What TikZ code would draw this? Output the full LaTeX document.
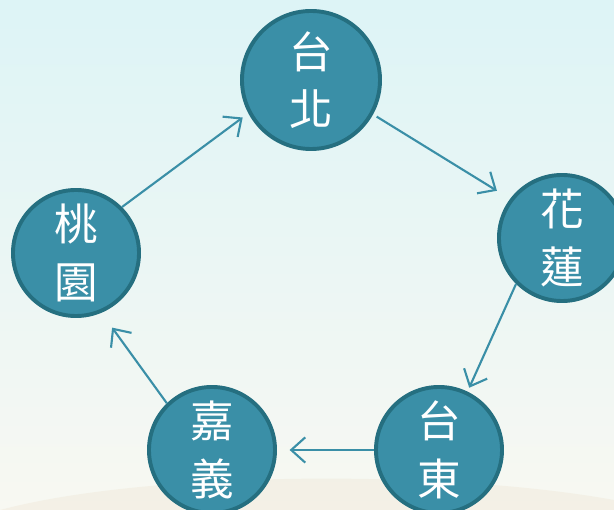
\documentclass[tikz,border=0pt]{standalone}
\usepackage{fontspec}
\usepackage{xcolor}
\usepackage{tikz}
\usetikzlibrary{arrows.meta, positioning, calc}
\newfontfamily\cjk{Noto Sans CJK TC}
\definecolor{cityteal}{HTML}{3A8FA7}
\definecolor{cityrim}{HTML}{256F80}
\definecolor{skycyan}{HTML}{DDF4F6}
\definecolor{papercream}{HTML}{F8F8F2}
\definecolor{pagetan}{HTML}{E9DCC4}

\begin{document}
\begin{tikzpicture}[
  x=0.025cm, y=-0.025cm,
  city/.style={
    circle,
    draw=cityrim,
    fill=cityteal,
    line width=2.8pt,
    minimum size=3.15cm,
    inner sep=0pt,
    align=center,
    text=white,
    font=\cjk\fontsize{31}{41}\selectfont
  },
  bigcity/.style={city, minimum size=3.45cm},
  arrow/.style={->, >={Straight Barb[length=10pt, width=18pt, line width=1.5pt]}, cityteal, line width=1.5pt}
]
  % Background
  \useasboundingbox (0,0) rectangle (614,510);
  \clip (0,0) rectangle (614,510);
  \shade[top color=skycyan, bottom color=papercream] (0,0) rectangle (614,510);
  \fill[pagetan, opacity=0.25] (0,510) .. controls (150,470) and (450,470) .. (614,500) -- (614,510) -- cycle;

  % Cities
  \node[bigcity] (taipei) at (311,80) {台\\北};
  \node[city] (hualien) at (562,238) {花\\蓮};
  \node[city] (taitung) at (439,450) {台\\東};
  \node[city] (chiayi) at (212,450) {嘉\\義};
  \node[city] (taoyuan) at (76,253) {桃\\園};

  % Route
  \draw[arrow, shorten >=5pt] (taoyuan.45) -- (taipei.208);
  \draw[arrow, shorten <=3pt, shorten >=11pt] (taipei.331) -- (hualien.143);
  \draw[arrow, shorten >=3pt] (hualien.225) -- (taitung.64);
  \draw[arrow, shorten >=9pt] (taitung.180) -- (chiayi.0);
  \draw[arrow, shorten >=13pt] (chiayi.134) -- (taoyuan.293);
\end{tikzpicture}
\end{document}
